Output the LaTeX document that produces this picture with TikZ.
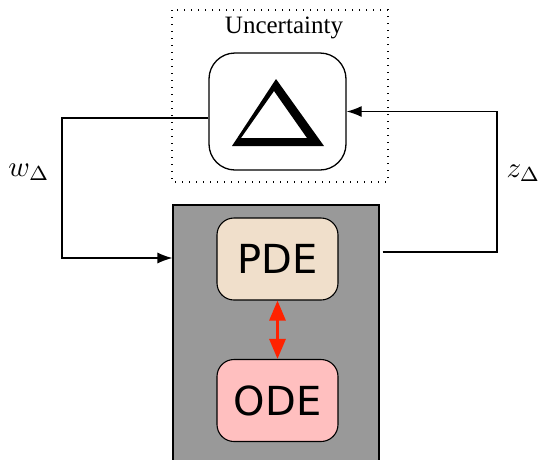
\documentclass[tikz,border=0pt]{standalone}
\usepackage{fontspec}
\newfontfamily\serifa{Liberation Serif}
\newfontfamily\sansa{DejaVu Sans}
\usetikzlibrary{arrows.meta}
\definecolor{pdefill}{HTML}{F0DFCB}
\definecolor{odefill}{HTML}{FFBFBF}
\definecolor{plantgray}{HTML}{999999}
\definecolor{linkred}{HTML}{FF2200}
\tikzset{
  conn/.style={line width=1.3pt, -{Latex[length=15pt,width=11pt]}},
  subbox/.style={draw, line width=1.1pt, rounded corners=17pt, minimum width=121pt,
    minimum height=82pt, font=\sansa\fontsize{40}{44}\selectfont, inner sep=0pt},
  lbl/.style={inner sep=0pt}
}
\begin{document}
\begin{tikzpicture}[x=1pt,y=-1pt]
  \clip (0,0) rectangle (547,459);
  \fill[white] (0,0) rectangle (547,459);

  % uncertainty block
  \draw[line width=1.4pt, dash pattern=on 1.4pt off 5.6pt] (172,10) rectangle (388,182);
  \node[anchor=base, font=\serifa\fontsize{25}{30}\selectfont] (unc) at (284,33) {Uncertainty};
  \node[draw, line width=1.3pt, rounded corners=26pt, minimum width=137pt, minimum height=117pt]
    (delta) at (277.5,111.5) {};
  \fill[black, even odd rule]
    (232,146) -- (276,79) -- (324,146) -- cycle
    (241,138) -- (307,138) -- (274,91) -- cycle;

  % plant block
  \node[draw, line width=1.1pt, fill=plantgray, minimum width=206pt, minimum height=290pt,
    inner sep=0pt] (plant) at (276,350) {};
  \node[subbox, fill=pdefill] (pde) at (277.5,259) {PDE};
  \node[subbox, fill=odefill] (ode) at (277.5,400.5) {ODE};
  \draw[linkred, line width=3pt, {Triangle[length=20pt,width=16pt]}-{Triangle[length=20pt,width=16pt]}]
    (pde.south) -- (ode.north);

  % feedback loop
  \coordinate (wleft) at (62,258);
  \coordinate (zright) at (497,252);
  \draw[conn] ([yshift=-6.5pt]delta.west) -| (wleft) -- (wleft -| plant.west);
  \draw[conn] ([xshift=3pt]plant.east |- zright) -- (zright) |- (delta.east);

  \node[lbl] (wlab) at (29,172) {\scalebox{2.9}{$w_\Delta$}};
  \node[lbl] (zlab) at (523.5,173) {\scalebox{2.9}{$z_\Delta$}};
\end{tikzpicture}
\end{document}
